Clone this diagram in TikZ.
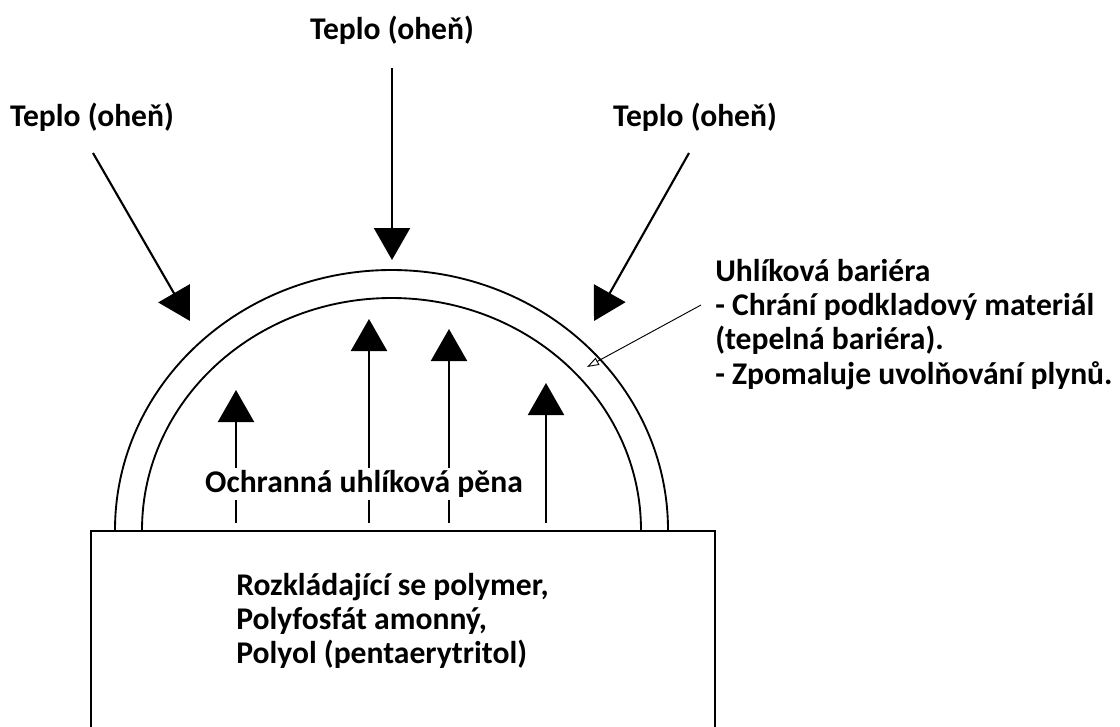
\documentclass[tikz,border=0pt]{standalone}
\usepackage{fontspec}
\setmainfont{Carlito}
\usetikzlibrary{arrows.meta}
\tikzset{
  lbl/.style={font=\bfseries\fontsize{23.7}{25.7}\selectfont, inner sep=0pt, align=left},
  heat/.style={line width=1.6pt, -{Triangle[width=27pt,length=24pt]}},
  shell/.style={line width=1.4pt},
  callout/.style={line width=0.7pt, -{Triangle[open,width=6pt,length=9pt]}}
}
\begin{document}
\begin{tikzpicture}[x=0.75pt,y=-0.75pt]
\useasboundingbox (0,0) rectangle (1120,726);
% base box
\node[draw, line width=1.4pt, minimum width=468pt, minimum height=180pt, anchor=north west, inner sep=0pt] (box) at (90,530) {};
% dome
\draw[shell] (115,530) arc[start angle=180,end angle=360,x radius=276.5,y radius=260];
\draw[shell] (142,530) arc[start angle=180,end angle=360,x radius=249.5,y radius=232];
% labels
\node[lbl] (tTop) at (392,30) {Teplo (oheň)};
\node[lbl] (tLeft) at (92,117) {Teplo (oheň)};
\node[lbl] (tRight) at (695,117) {Teplo (oheň)};
% heat arrows
\coordinate (hTopS) at (392,68);   \coordinate (hTopE) at (392,260);
\coordinate (hLeftS) at (93,153);  \coordinate (hLeftE) at (190,321);
\coordinate (hRightS) at (689,153); \coordinate (hRightE) at (594,321);
\draw[heat] (hTopS) -- (hTopE);
\draw[heat] (hLeftS) -- (hLeftE);
\draw[heat] (hRightS) -- (hRightE);
% foam arrows
\coordinate (a1s) at (236,523); \coordinate (a1e) at (236,390);
\coordinate (a2s) at (369,523); \coordinate (a2e) at (369,319);
\coordinate (a3s) at (449,523); \coordinate (a3e) at (449,329);
\coordinate (a4s) at (546,523); \coordinate (a4e) at (546,383);
\draw[heat] (a1s) -- (a1e);
\draw[heat] (a2s) -- (a2e);
\draw[heat] (a3s) -- (a3e);
\draw[heat] (a4s) -- (a4e);
\node[lbl, fill=white, inner ysep=2pt, inner xsep=1pt] (foam) at (364,484) {Ochranná uhlíková pěna};
% barrier text
\node[lbl, anchor=north west] (barrier) at (715,259) {Uhlíková bariéra\\- Chrání podkladový materiál\\(tepelná bariéra).\\- Zpomaluje uvolňování plynů.};
\coordinate (cS) at (701,305); \coordinate (cE) at (587,367);
\draw[callout] (cS) -- (cE);
% box text
\node[lbl, anchor=north west] (boxtxt) at (236,573) {Rozkládající se polymer,\\Polyfosfát amonný,\\Polyol (pentaerytritol)};
\end{tikzpicture}
\end{document}
